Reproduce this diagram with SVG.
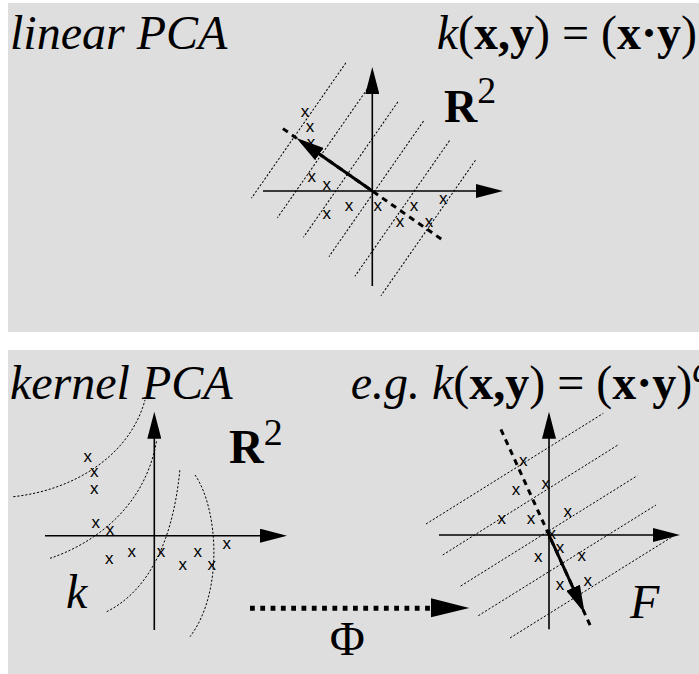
<svg xmlns="http://www.w3.org/2000/svg" width="699" height="674" viewBox="0 0 699 674">
<style>
.panel{fill:#dedede}
.ax{stroke:#000;stroke-width:1.6;fill:none}
.dot{stroke:#000;stroke-width:1;fill:none;stroke-dasharray:2.2 1.8}
.pc{stroke:#000;stroke-width:3;fill:none}
.pcd{stroke:#000;stroke-width:3;fill:none;stroke-dasharray:6 5}
.m{font-family:"Liberation Sans",Arial,sans-serif;font-size:17px;text-anchor:middle;fill:#000}
.t{font-family:"Liberation Serif","Times New Roman",serif;font-size:48px;fill:#000}
.i{font-style:italic}
.b{font-weight:bold}
</style>
<defs>
<marker id="axh" markerUnits="userSpaceOnUse" markerWidth="27" markerHeight="14" refX="20" refY="7" orient="auto" viewBox="0 0 27 14">
<path d="M0,0 L27,7 L0,14 z" fill="#000"/>
</marker>
<marker id="pch" markerUnits="userSpaceOnUse" markerWidth="28" markerHeight="15" refX="22" refY="7.5" orient="auto" viewBox="0 0 28 15">
<path d="M0,0 L28,7.5 L0,15 z" fill="#000"/>
</marker>
</defs>

<rect class="panel" x="8" y="3" width="691" height="329"/>
<rect class="panel" x="8" y="350" width="691" height="324"/>

<!-- top panel -->
<g id="top-labels">
<text class="t i" x="10" y="49">linear PCA</text>
<text class="t" x="697" y="49" text-anchor="end" font-size="52"><tspan class="i">k</tspan>(<tspan class="b">x,y</tspan>) = (<tspan class="b">x·y</tspan>)</text>
<text class="t" x="444" y="122" font-size="46"><tspan class="b" font-size="46">R</tspan><tspan dy="-19" font-size="38">2</tspan></text>
</g>

<g id="top-levels" transform="translate(372.3,191) rotate(34.9)">
<line class="dot" x1="-95" y1="-90" x2="-95" y2="75"/>
<line class="dot" x1="-62.5" y1="-88.9" x2="-62.5" y2="76.2"/>
<line class="dot" x1="-30" y1="-87.7" x2="-30" y2="77.4"/>
<line class="dot" x1="2" y1="-86.6" x2="2" y2="78.6"/>
<line class="dot" x1="34.5" y1="-85.5" x2="34.5" y2="79.8"/>
<line class="dot" x1="67" y1="-84.3" x2="67" y2="81"/>
</g>

<g id="top-points">
<text class="m" x="305" y="117">x</text>
<text class="m" x="310" y="131.5">x</text>
<text class="m" x="311" y="147.5">x</text>
<text class="m" x="311.7" y="181.5">x</text>
<text class="m" x="326.7" y="190">x</text>
<text class="m" x="326.7" y="218.5">x</text>
<text class="m" x="349" y="211">x</text>
<text class="m" x="377.7" y="211">x</text>
<text class="m" x="400" y="226.5">x</text>
<text class="m" x="414" y="211">x</text>
<text class="m" x="429" y="226.5">x</text>
<text class="m" x="443.3" y="204">x</text>
</g>

<g id="top-axes">
<line class="ax" x1="263" y1="191" x2="496" y2="191" marker-end="url(#axh)"/>
<line class="ax" x1="372.3" y1="286" x2="372.3" y2="74" marker-end="url(#axh)"/>
</g>

<g id="top-pc" transform="translate(372.3,191) rotate(34.9)">
<line class="pcd" x1="-109" y1="0" x2="87.5" y2="0"/>
<line class="pc" x1="0" y1="0" x2="-86.5" y2="0" marker-end="url(#pch)"/>
</g>

<!-- bottom panel -->
<g id="bottom-labels">
<text class="t" x="432" y="399" font-size="44.5"><tspan class="i">k</tspan>(<tspan class="b">x,y</tspan>) = (<tspan class="b">x·y</tspan>)<tspan class="i" dy="-17" font-size="38">d</tspan></text>
<text class="t i" x="420" y="399" font-size="44.5" text-anchor="end">e.g.</text>
<text class="t i" x="10" y="399">kernel PCA</text>
<text class="t" x="229" y="463" font-size="46"><tspan class="b">R</tspan><tspan dy="-18" font-size="38">2</tspan></text>
<text class="t i" x="66" y="608" font-size="46">k</text>
<text class="t i" x="630" y="618" font-size="46">F</text>
</g>

<g id="input-space">
<path class="dot" d="M13.3,496.7 C75,490 130,455 145,400"/>
<path class="dot" d="M50,558.3 C90,545 145,510 156.7,440"/>
<path class="dot" d="M106.7,611.7 C140,595 172,555 180,468.3"/>
<path class="dot" d="M195,475 C218,508 224,592 190,636.7"/>
<text class="m" x="87.7" y="461.5">x</text>
<text class="m" x="94.3" y="477">x</text>
<text class="m" x="94.3" y="493.5">x</text>
<text class="m" x="95.7" y="527.5">x</text>
<text class="m" x="110" y="535">x</text>
<text class="m" x="109.3" y="563.5">x</text>
<text class="m" x="131.7" y="556.5">x</text>
<text class="m" x="161" y="556.5">x</text>
<text class="m" x="182.7" y="570">x</text>
<text class="m" x="197.7" y="556.5">x</text>
<text class="m" x="211.7" y="570">x</text>
<text class="m" x="226.7" y="548.5">x</text>
<line class="ax" x1="45" y1="535.7" x2="280" y2="535.7" marker-end="url(#axh)"/>
<line class="ax" x1="154.3" y1="630" x2="154.3" y2="418.7" marker-end="url(#axh)"/>
</g>

<g id="feature-space">
<line class="dot" x1="426" y1="524" x2="603.3" y2="413.3"/>
<line class="dot" x1="442.7" y1="555" x2="619" y2="444.3"/>
<line class="dot" x1="460.7" y1="586" x2="637.3" y2="475.7"/>
<line class="dot" x1="478.3" y1="615.7" x2="656" y2="505"/>
<line class="dot" x1="510" y1="638" x2="673.5" y2="536"/>
<text class="m" x="523.3" y="466">x</text>
<text class="m" x="516" y="495">x</text>
<text class="m" x="545.7" y="488.5">x</text>
<text class="m" x="501.7" y="524">x</text>
<text class="m" x="531" y="524">x</text>
<text class="m" x="567.7" y="517">x</text>
<text class="m" x="551.7" y="538.5">x</text>
<text class="m" x="560" y="553">x</text>
<text class="m" x="538.3" y="561.5">x</text>
<text class="m" x="581.7" y="561">x</text>
<text class="m" x="560" y="590">x</text>
<text class="m" x="587.7" y="586">x</text>
<line class="ax" x1="439" y1="535" x2="673" y2="535" marker-end="url(#axh)"/>
<line class="ax" x1="549" y1="629.3" x2="549" y2="418.7" marker-end="url(#axh)"/>
<g transform="translate(549,535) rotate(65.5)">
<line class="pcd" x1="-116" y1="0" x2="104" y2="0"/>
<line class="pc" x1="0" y1="0" x2="80" y2="0" marker-end="url(#pch)"/>
</g>
</g>

<g id="connectors">
<line x1="250" y1="608.3" x2="430" y2="608.3" stroke="#000" stroke-width="5" stroke-dasharray="4.8 5.5"/>
<polygon points="431,598.3 469.3,608 431,617.3" fill="#000"/>
<text class="t" x="347.3" y="655" font-size="46" text-anchor="middle">Φ</text>
</g>
</svg>
